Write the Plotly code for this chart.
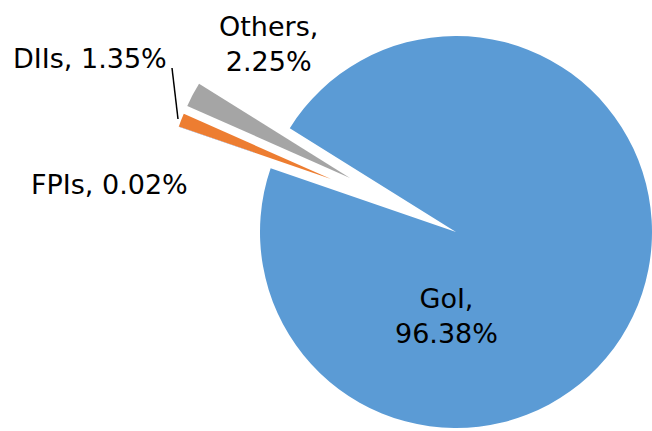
import plotly.graph_objects as go

# Data
labels = ["GoI", "FPIs", "DIIs", "Others"]
values = [96.38, 0.02, 1.35, 2.25]
colors = ["#5B9BD5", "#4472C4", "#ED7D31", "#A5A5A5"]
label_text = [f"{l}, {v:.2f}%" for l, v in zip(labels, values)]

W, H = 652, 431
FONT = "DejaVu Sans"
CLEAR = "rgba(0,0,0,0)"


def px_dom(cx, cy, r):
    """domain (paper fractions) for a pie centred at pixel (cx, cy) with radius r"""
    return dict(x=[(cx - r) / W, min(1, (cx + r) / W)],
                y=[max(0, 1 - (cy + r) / H), min(1, 1 - (cy - r) / H)])


def pie(show, domain):
    cols = [c if i in show else CLEAR for i, c in enumerate(colors)]
    return go.Pie(labels=labels, values=values, sort=False, direction="clockwise",
                  rotation=302, marker=dict(colors=cols, line=dict(width=0)),
                  textinfo="none", hoverinfo="label+percent", showlegend=False,
                  domain=domain)


fig = go.Figure()
fig.add_trace(pie({0}, px_dom(456, 232, 196)))          # GoI
fig.add_trace(pie({3}, px_dom(350, 178, 178)))          # Others (exploded)
fig.add_trace(pie({1, 2}, px_dom(331, 179, 161)))       # FPIs, DIIs (exploded)

ann = [
    (label_text[3].replace(" ", "<br>", 1), 268, 44),
    (label_text[2], 90, 58),
    (label_text[1], 109, 184),
    (label_text[0].replace(" ", "<br>", 1), 446, 316),
]
for t, x, y in ann:
    fig.add_annotation(text=t, x=x / W, y=1 - y / H, xref="paper", yref="paper",
                       xanchor="center", yanchor="middle", showarrow=False,
                       font=dict(family=FONT, size=27, color="black"), align="center")

fig.add_shape(type="line", xref="paper", yref="paper",
              x0=172 / W, y0=1 - 68 / H, x1=178 / W, y1=1 - 119 / H,
              line=dict(color="black", width=1.5))

fig.update_layout(width=W, height=H, margin=dict(l=0, r=0, t=0, b=0),
                  paper_bgcolor="white", plot_bgcolor="white")
fig.write_html("out.html", config={"displayModeBar": False},
               post_script="document.body.style.margin='0';document.body.style.overflow='hidden';")
